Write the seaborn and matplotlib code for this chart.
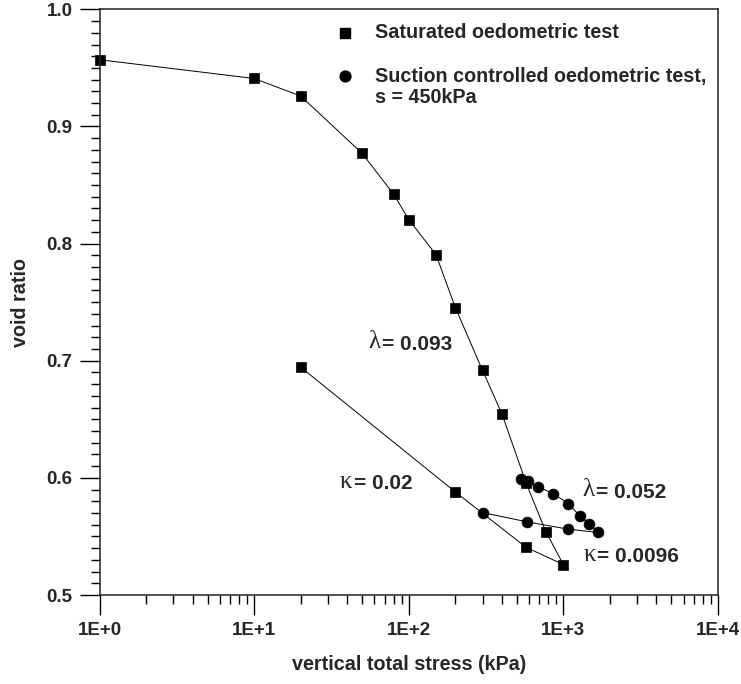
import matplotlib
matplotlib.use("Agg")
import matplotlib.pyplot as plt
import seaborn as sns
from matplotlib.ticker import (FixedLocator, FixedFormatter, LogLocator, MultipleLocator,
                               NullFormatter, FormatStrFormatter)

# Saturated oedometric test: loading up to 1000 kPa, then unloading
sat_stress = [1, 10, 20, 50, 80, 100, 150, 200, 300, 400, 575, 770, 1000, 575, 200, 20]
sat_void = [0.957, 0.941, 0.926, 0.877, 0.842, 0.8205, 0.7906, 0.7454, 0.6917, 0.6548,
            0.5954, 0.554, 0.526, 0.5406, 0.588, 0.6945]

# Suction controlled oedometric test (s = 450 kPa): loading, then unloading
suc_stress = [529, 594, 690, 860, 1077, 1280, 1470, 1680, 1077, 585, 300]
suc_void = [0.5988, 0.5974, 0.5922, 0.5866, 0.578, 0.5675, 0.561, 0.5534, 0.5562, 0.5624, 0.5704]

x_ticks = [1, 10, 100, 1000, 10000]
x_tick_labels = ["1E+0", "1E+1", "1E+2", "1E+3", "1E+4"]

sns.set_theme(style="ticks")
plt.rcParams["font.family"] = ["Liberation Sans", "DejaVu Sans"]
plt.rcParams["font.weight"] = "bold"

fig = plt.figure(figsize=(7.41, 6.84), dpi=100)
ax = fig.add_axes([0.1343, 0.1301, 0.8347, 0.8562])

line_kw = dict(sort=False, estimator=None, color="black", linewidth=0.7,
               markeredgecolor="black", markeredgewidth=0.5, ax=ax, clip_on=False)
sns.lineplot(x=sat_stress, y=sat_void, marker="s", markersize=7.5, **line_kw)
sns.lineplot(x=suc_stress, y=suc_void, marker="o", markersize=7.8, **line_kw)

ax.set_xscale("log")
ax.set_xlim(1, 1e4)
ax.set_ylim(0.5, 1.0)

ax.xaxis.set_major_locator(FixedLocator(x_ticks))
ax.xaxis.set_major_formatter(FixedFormatter(x_tick_labels))
ax.xaxis.set_minor_locator(LogLocator(base=10, subs=range(2, 10)))
ax.xaxis.set_minor_formatter(NullFormatter())
ax.yaxis.set_major_locator(MultipleLocator(0.1))
ax.yaxis.set_minor_locator(MultipleLocator(0.01))
ax.yaxis.set_major_formatter(FormatStrFormatter("%.1f"))

ax.tick_params(which="major", length=14.5, width=1.0, direction="out", color="black",
               labelsize=13.5, pad=5)
ax.tick_params(which="minor", length=6.5, width=1.0, direction="out", color="black")
for lab in ax.get_xticklabels() + ax.get_yticklabels():
    lab.set_fontweight("bold")

for sp in ax.spines.values():
    sp.set_linewidth(1.1)
    sp.set_color("#222222")

ax.set_xlabel("vertical total stress (kPa)", fontsize=14.2, fontweight="bold", va="center")
ax.set_ylabel("void ratio", fontsize=14.2, fontweight="bold", va="center")
ax.xaxis.set_label_coords(0.5, -0.1195)
ax.yaxis.set_label_coords(-0.1285, 0.5)


def slope_note(x, y, greek, rest):
    """Greek symbol in a plain serif face followed by the bold value."""
    g = ax.text(x, y, greek, fontsize=18, fontweight="normal",
                family=["Liberation Serif", "DejaVu Serif"], va="center", ha="left")
    ax.annotate(rest, xy=(1, 0.42), xycoords=g, xytext=(1, 0), textcoords="offset points",
                fontsize=15, fontweight="bold", va="center", ha="left")


slope_note(54.5, 0.7156, "λ", "= 0.093")
slope_note(35.9, 0.5963, "κ", "= 0.02")
slope_note(1321, 0.5894, "λ", "= 0.052")
slope_note(1341, 0.534, "κ", "= 0.0096")

# Key
tr = ax.transAxes
ax.plot([0.397], [0.960], marker="s", markersize=7.5, color="black", transform=tr, clip_on=False)
ax.plot([0.397], [0.886], marker="o", markersize=7.8, color="black", transform=tr, clip_on=False)
key_kw = dict(fontsize=14.2, fontweight="bold", va="center", ha="left", transform=tr)
ax.text(0.445, 0.960, "Saturated oedometric test", **key_kw)
ax.text(0.445, 0.886, "Suction controlled oedometric test,", **key_kw)
ax.text(0.445, 0.849, "s = 450kPa", **key_kw)

fig.savefig("out.png", dpi=100)
